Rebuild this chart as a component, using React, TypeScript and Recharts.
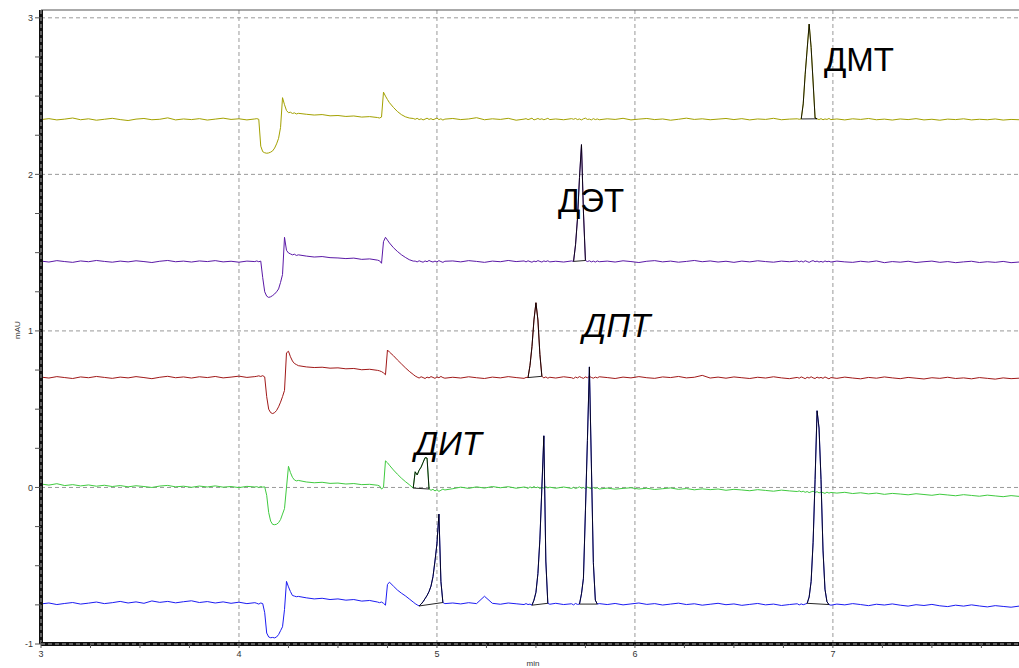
import React from 'react';
import { LineChart, Line, XAxis, YAxis, ReferenceLine } from 'recharts';

// retention time, min (shared grid for all traces)
const time = [
  3.00, 3.04, 3.08, 3.12, 3.16, 3.20, 3.24, 3.28, 3.32, 3.36, 3.40, 3.44, 3.48, 3.52, 3.56, 3.60, 3.64, 3.68, 3.72, 3.76, 3.80, 3.84, 3.88, 3.92, 3.96, 4.00, 4.04, 4.08,
  4.09, 4.10, 4.11, 4.12, 4.13, 4.14, 4.15, 4.16, 4.17, 4.18, 4.19, 4.20, 4.21, 4.22, 4.23, 4.24, 4.25, 4.26, 4.27, 4.28, 4.29, 4.30,
  4.34, 4.38, 4.42, 4.46, 4.50, 4.54, 4.58, 4.62, 4.66, 4.70,
  4.71, 4.72, 4.73, 4.74, 4.75, 4.76, 4.78, 4.80, 4.82, 4.84, 4.86, 4.88,
  4.89, 4.90, 4.91, 4.92, 4.93, 4.94, 4.95, 4.96, 4.97, 4.98, 4.99, 5.00, 5.01, 5.02, 5.03, 5.04,
  5.08, 5.12, 5.16, 5.20, 5.24, 5.28, 5.32, 5.36, 5.40, 5.44,
  5.45, 5.46, 5.47, 5.48, 5.49, 5.50, 5.51, 5.52, 5.53, 5.54, 5.55, 5.56, 5.57,
  5.60, 5.64, 5.68,
  5.69, 5.70, 5.71, 5.72, 5.73, 5.74, 5.75, 5.76, 5.77, 5.78, 5.79, 5.80, 5.81, 5.82,
  5.86, 5.90, 5.94, 5.98, 6.02, 6.06, 6.10, 6.14, 6.18, 6.22, 6.26, 6.30, 6.34, 6.38, 6.42, 6.46, 6.50, 6.54, 6.58, 6.62, 6.66, 6.70, 6.74, 6.78, 6.82,
  6.83, 6.84, 6.85, 6.86, 6.87, 6.88, 6.89, 6.90, 6.91, 6.92, 6.93, 6.94, 6.95, 6.96, 6.97, 6.98, 6.99,
  7.02, 7.06, 7.10, 7.14, 7.18, 7.22, 7.26, 7.30, 7.34, 7.38, 7.42, 7.46, 7.50, 7.54, 7.58, 7.62, 7.66, 7.70, 7.74, 7.78, 7.82, 7.86, 7.90, 7.94,
];

// ДМТ trace, mAU
const dmt = [
  2.350, 2.356, 2.348, 2.353, 2.360, 2.349, 2.355, 2.346, 2.352, 2.358, 2.350, 2.344, 2.353, 2.357, 2.349, 2.352, 2.361, 2.348, 2.354, 2.350, 2.356, 2.347, 2.353, 2.359, 2.351, 2.355, 2.348, 2.354,
  2.356, 2.352, 2.180, 2.145, 2.138, 2.135, 2.137, 2.142, 2.150, 2.168, 2.195, 2.230, 2.300, 2.490, 2.445, 2.408, 2.394, 2.397, 2.389, 2.393, 2.386, 2.390,
  2.384, 2.379, 2.382, 2.374, 2.376, 2.370, 2.373, 2.366, 2.369, 2.363,
  2.360, 2.366, 2.525, 2.500, 2.478, 2.458, 2.428, 2.402, 2.382, 2.368, 2.360, 2.357,
  2.352, 2.358, 2.350, 2.355, 2.348, 2.353, 2.359, 2.351, 2.356, 2.349, 2.354, 2.360, 2.350, 2.355, 2.347, 2.353,
  2.357, 2.350, 2.354, 2.362, 2.349, 2.355, 2.351, 2.358, 2.346, 2.353,
  2.356, 2.350, 2.354, 2.359, 2.348, 2.352, 2.357, 2.351, 2.355, 2.349, 2.353, 2.358, 2.350,
  2.354, 2.349, 2.356,
  2.352, 2.357, 2.350, 2.354, 2.348, 2.355, 2.359, 2.351, 2.353, 2.348, 2.356, 2.350, 2.354, 2.349,
  2.355, 2.351, 2.358, 2.348, 2.353, 2.357, 2.350, 2.354, 2.346, 2.352, 2.359, 2.351, 2.355, 2.349, 2.353, 2.357, 2.350, 2.356, 2.348, 2.354, 2.351, 2.358, 2.349, 2.353, 2.355,
  2.352, 2.354, 2.450, 2.640, 2.800, 2.960, 2.810, 2.590, 2.360, 2.355, 2.350, 2.356, 2.349, 2.354, 2.351, 2.357, 2.350,
  2.354, 2.348, 2.355, 2.351, 2.357, 2.349, 2.353, 2.347, 2.354, 2.350, 2.356, 2.348, 2.352, 2.346, 2.353, 2.350, 2.355, 2.348, 2.352, 2.349, 2.354, 2.347, 2.351, 2.349,
];

// ДЭТ trace
const det = [
  1.446, 1.440, 1.449, 1.443, 1.438, 1.447, 1.442, 1.450, 1.444, 1.439, 1.446, 1.441, 1.448, 1.443, 1.437, 1.445, 1.450, 1.442, 1.446, 1.440, 1.447, 1.443, 1.449, 1.441, 1.445, 1.439, 1.446, 1.443,
  1.447, 1.442, 1.446, 1.340, 1.250, 1.222, 1.214, 1.218, 1.226, 1.236, 1.250, 1.268, 1.310, 1.360, 1.598, 1.515, 1.498, 1.492, 1.486, 1.490, 1.482, 1.486,
  1.478, 1.472, 1.475, 1.468, 1.466, 1.462, 1.465, 1.457, 1.460, 1.452,
  1.448, 1.432, 1.570, 1.598, 1.580, 1.562, 1.532, 1.508, 1.487, 1.470, 1.455, 1.446,
  1.446, 1.441, 1.448, 1.443, 1.439, 1.447, 1.442, 1.450, 1.444, 1.440, 1.446, 1.441, 1.449, 1.443, 1.438, 1.445,
  1.447, 1.441, 1.449, 1.444, 1.438, 1.446, 1.442, 1.450, 1.443, 1.447,
  1.441, 1.448, 1.443, 1.439, 1.446, 1.442, 1.449, 1.444, 1.440, 1.447, 1.443, 1.448, 1.441,
  1.445, 1.440, 1.447,
  1.444, 1.550, 1.720, 1.980, 2.190, 1.760, 1.450, 1.443, 1.448, 1.441, 1.446, 1.440, 1.447, 1.442,
  1.446, 1.440, 1.448, 1.443, 1.437, 1.445, 1.449, 1.441, 1.446, 1.439, 1.444, 1.450, 1.442, 1.447, 1.440, 1.445, 1.438, 1.446, 1.441, 1.448, 1.443, 1.439, 1.446, 1.442, 1.447,
  1.441, 1.446, 1.440, 1.448, 1.443, 1.438, 1.445, 1.449, 1.442, 1.446, 1.440, 1.444, 1.439, 1.447, 1.442, 1.445, 1.440,
  1.446, 1.441, 1.438, 1.445, 1.440, 1.447, 1.436, 1.443, 1.439, 1.445, 1.437, 1.442, 1.446, 1.438, 1.443, 1.436, 1.441, 1.445, 1.437, 1.442, 1.438, 1.444, 1.436, 1.440,
];

// ДПТ trace
const dpt = [
  0.705, 0.699, 0.708, 0.702, 0.696, 0.706, 0.701, 0.709, 0.703, 0.697, 0.705, 0.700, 0.708, 0.702, 0.695, 0.704, 0.710, 0.701, 0.706, 0.699, 0.707, 0.702, 0.709, 0.700, 0.705, 0.711, 0.703, 0.708,
  0.710, 0.713, 0.709, 0.714, 0.706, 0.580, 0.500, 0.478, 0.472, 0.478, 0.492, 0.515, 0.545, 0.580, 0.620, 0.860, 0.870, 0.835, 0.808, 0.792, 0.785, 0.778,
  0.770, 0.766, 0.768, 0.762, 0.764, 0.758, 0.760, 0.752, 0.755, 0.748,
  0.745, 0.740, 0.732, 0.720, 0.878, 0.865, 0.842, 0.815, 0.790, 0.765, 0.742, 0.722,
  0.712, 0.705, 0.699, 0.707, 0.702, 0.696, 0.705, 0.700, 0.708, 0.703, 0.697, 0.706, 0.701, 0.709, 0.702, 0.698,
  0.704, 0.699, 0.707, 0.701, 0.696, 0.705, 0.700, 0.708, 0.702, 0.697,
  0.703, 0.702, 0.780, 0.900, 1.070, 1.180, 1.070, 0.850, 0.710, 0.700, 0.706, 0.698, 0.704,
  0.699, 0.707, 0.701,
  0.696, 0.705, 0.700, 0.708, 0.702, 0.697, 0.706, 0.701, 0.709, 0.703, 0.698, 0.705, 0.700, 0.707,
  0.702, 0.696, 0.705, 0.700, 0.708, 0.701, 0.697, 0.706, 0.702, 0.709, 0.700, 0.704, 0.716, 0.699, 0.705, 0.698, 0.706, 0.701, 0.696, 0.704, 0.699, 0.707, 0.700, 0.695, 0.703,
  0.698, 0.706, 0.701, 0.695, 0.704, 0.699, 0.707, 0.700, 0.696, 0.705, 0.699, 0.703, 0.697, 0.706, 0.700, 0.694, 0.702,
  0.697, 0.705, 0.699, 0.694, 0.703, 0.698, 0.706, 0.700, 0.695, 0.703, 0.698, 0.693, 0.701, 0.697, 0.704, 0.696, 0.700, 0.694, 0.702, 0.697, 0.692, 0.700, 0.695, 0.698,
];

// ДИТ trace
const dit = [
  0.022, 0.015, 0.024, 0.012, 0.018, 0.010, 0.016, 0.008, 0.014, 0.006, 0.012, 0.004, 0.011, 0.006, 0.000, 0.009, 0.013, 0.004, 0.008, 0.001, 0.009, 0.003, 0.010, 0.002, 0.006, -0.001, 0.007, 0.003,
  0.005, 0.000, 0.006, 0.002, 0.004, -0.050, -0.160, -0.215, -0.236, -0.238, -0.235, -0.225, -0.205, -0.170, -0.135, 0.000, 0.135, 0.095, 0.065, 0.048, 0.042, 0.045,
  0.035, 0.030, 0.033, 0.026, 0.028, 0.022, 0.025, 0.018, 0.020, 0.014,
  0.010, -0.010, 0.000, 0.170, 0.158, 0.142, 0.112, 0.085, 0.060, 0.038, 0.018, -0.004,
  0.100, 0.080, 0.110, 0.130, 0.160, 0.190, 0.188, -0.010, -0.018, -0.012, -0.022, -0.015, -0.025, -0.018, -0.010, -0.016,
  -0.008, 0.002, -0.006, 0.004, -0.004, 0.006, -0.002, 0.005, -0.005, 0.003,
  0.000, -0.006, 0.004, -0.003, 0.006, -0.002, 0.003, -0.007, 0.001, -0.004, 0.005, -0.003, 0.002,
  -0.005, 0.003, -0.006,
  0.001, -0.007, -0.002, 0.004, -0.005, 0.000, -0.008, 0.002, -0.004, -0.009, 0.000, -0.006, -0.002, -0.010,
  -0.004, -0.011, -0.006, -0.002, -0.010, -0.005, -0.013, -0.008, -0.003, -0.012, -0.007, -0.015, -0.009, -0.014, -0.010, -0.018, -0.012, -0.016, -0.021, -0.014, -0.019, -0.024, -0.017, -0.022, -0.026,
  -0.022, -0.028, -0.024, -0.031, -0.026, -0.033, -0.028, -0.024, -0.032, -0.027, -0.035, -0.029, -0.033, -0.038, -0.030, -0.036, -0.032,
  -0.036, -0.031, -0.039, -0.034, -0.041, -0.036, -0.044, -0.038, -0.042, -0.047, -0.040, -0.045, -0.050, -0.043, -0.048, -0.053, -0.046, -0.051, -0.056, -0.049, -0.054, -0.059, -0.052, -0.057,
];

// mixture trace
const mix = [
  -0.744, -0.738, -0.748, -0.741, -0.735, -0.745, -0.739, -0.732, -0.742, -0.736, -0.728, -0.738, -0.731, -0.740, -0.725, -0.734, -0.728, -0.737, -0.730, -0.724, -0.735, -0.729, -0.738, -0.731, -0.740, -0.733, -0.742, -0.736,
  -0.740, -0.745, -0.738, -0.742, -0.800, -0.930, -0.955, -0.960, -0.958, -0.961, -0.955, -0.940, -0.915, -0.890, -0.780, -0.600, -0.635, -0.665, -0.690, -0.694, -0.698, -0.696,
  -0.705, -0.712, -0.708, -0.716, -0.712, -0.720, -0.716, -0.726, -0.722, -0.732,
  -0.736, -0.732, -0.740, -0.752, -0.620, -0.605, -0.630, -0.655, -0.675, -0.692, -0.712, -0.732,
  -0.742, -0.750, -0.757, -0.745, -0.730, -0.710, -0.690, -0.665, -0.630, -0.570, -0.470, -0.360, -0.170, -0.600, -0.735, -0.742,
  -0.738, -0.744, -0.736, -0.742, -0.695, -0.740, -0.746, -0.738, -0.743, -0.748,
  -0.742, -0.748, -0.745, -0.752, -0.720, -0.670, -0.550, -0.330, 0.000, 0.330, -0.470, -0.740, -0.746,
  -0.740, -0.748, -0.743,
  -0.750, -0.741, -0.747, -0.745, -0.680, -0.580, -0.150, 0.300, 0.770, 0.150, -0.480, -0.720, -0.745, -0.742,
  -0.748, -0.741, -0.750, -0.744, -0.738, -0.747, -0.742, -0.751, -0.745, -0.739, -0.748, -0.743, -0.752, -0.746, -0.740, -0.749, -0.744, -0.753, -0.747, -0.741, -0.750, -0.745, -0.754, -0.748, -0.743,
  -0.750, -0.744, -0.749, -0.745, -0.740, -0.700, -0.600, -0.350, 0.050, 0.490, 0.380, 0.050, -0.400, -0.650, -0.730, -0.748, -0.752,
  -0.745, -0.750, -0.742, -0.748, -0.755, -0.746, -0.751, -0.744, -0.752, -0.758, -0.749, -0.754, -0.747, -0.756, -0.761, -0.752, -0.758, -0.750, -0.757, -0.763, -0.755, -0.760, -0.765, -0.758,
];

// integrated peak windows (start / end time)
const integrations = [
  { key: 'dmt', from: 6.84, to: 6.92 },
  { key: 'det', from: 5.69, to: 5.75 },
  { key: 'dpt', from: 5.46, to: 5.53 },
  { key: 'dit', from: 4.88, to: 4.96 },
  { key: 'mix', from: 4.91, to: 5.03 },
  { key: 'mix', from: 5.48, to: 5.56 },
  { key: 'mix', from: 5.72, to: 5.81 },
  { key: 'mix', from: 6.87, to: 6.98 },
];

const xTicks = [3, 3.25, 3.5, 3.75, 4, 4.25, 4.5, 4.75, 5, 5.25, 5.5, 5.75, 6, 6.25, 6.5, 6.75, 7, 7.25, 7.5, 7.75];
const yTicks = [-1, -0.75, -0.5, -0.25, 0, 0.25, 0.5, 0.75, 1, 1.25, 1.5, 1.75, 2, 2.25, 2.5, 2.75, 3];
const xGrid = [4, 5, 6, 7];
const yGrid = [0, 1, 2, 3];

const series = [
  { key: 'dmt', color: '#a3a100' },
  { key: 'det', color: '#5a18a6' },
  { key: 'dpt', color: '#a01818' },
  { key: 'dit', color: '#3fca3f' },
  { key: 'mix', color: '#1c1cf2' },
];

const rows = time.map((t, i) => ({ t, dmt: dmt[i], det: det[i], dpt: dpt[i], dit: dit[i], mix: mix[i] }));

const outlines = integrations.map((w) => {
  const pts = rows
    .filter((r) => r.t >= w.from - 1e-9 && r.t <= w.to + 1e-9)
    .map((r) => ({ t: r.t, v: (r as any)[w.key] as number }));
  pts.push(pts[0]);
  return pts;
});

const fmt = (v: number) => (Number.isInteger(v) ? String(v) : '');
const tickFont = { fontSize: 9, fill: '#333', fontFamily: 'Liberation Sans, Arial, sans-serif' };

export default function App() {
  return (
    <div style={{ position: 'absolute', left: 0, top: 0, width: 1019, height: 668, background: '#fff' }}>
      <LineChart width={1019} height={668} data={rows} margin={{ top: 10, right: 0, bottom: 0, left: 0 }}>
        <XAxis
          dataKey="t"
          type="number"
          domain={[3, 7.94]}
          allowDataOverflow
          ticks={xTicks}
          interval={0}
          tickFormatter={fmt}
          axisLine={false}
          tickLine={{ stroke: '#555' }}
          tickSize={4}
          tickMargin={3}
          height={24}
          tick={tickFont}
        />
        <YAxis
          type="number"
          domain={[-1, 3.05]}
          allowDataOverflow
          ticks={yTicks}
          interval={0}
          tickFormatter={fmt}
          axisLine={false}
          tickLine={{ stroke: '#555' }}
          tickSize={6}
          tickMargin={2}
          width={41}
          tick={tickFont}
        />
        {xGrid.map((x) => (
          <ReferenceLine key={'gx' + x} x={x} stroke="#999" strokeDasharray="4 3" />
        ))}
        {yGrid.map((y) => (
          <ReferenceLine key={'gy' + y} y={y} stroke="#999" strokeDasharray="4 3" />
        ))}
        <ReferenceLine y={3.05} stroke="#555" />
        {series.map((s) => (
          <Line
            key={s.key}
            dataKey={s.key}
            type="linear"
            stroke={s.color}
            strokeWidth={1}
            dot={false}
            isAnimationActive={false}
          />
        ))}
        {outlines.map((pts, i) => (
          <Line
            key={'int' + i}
            data={pts}
            dataKey="v"
            type="linear"
            stroke="#000"
            strokeWidth={1}
            strokeOpacity={0.85}
            dot={false}
            isAnimationActive={false}
          />
        ))}
        <ReferenceLine x={3} stroke="#111" strokeWidth={4} />
        <ReferenceLine x={3} stroke="#aaa" strokeWidth={1} strokeDasharray="4 3" />
        <ReferenceLine y={-1} stroke="#111" strokeWidth={4} />
        <ReferenceLine y={-1} stroke="#aaa" strokeWidth={1} strokeDasharray="4 3" />
      </LineChart>
      <svg width={1019} height={668} style={{ position: 'absolute', left: 0, top: 0, pointerEvents: 'none' }}>
        <g fontFamily="Liberation Sans, Arial, sans-serif" fill="#000" fontSize={33}>
          <text x={824} y={71}>ДМТ</text>
          <text x={558} y={212}>ДЭТ</text>
          <text x={583} y={337} fontStyle="italic">ДПТ</text>
          <text x={415} y={455} fontStyle="italic">ДИТ</text>
        </g>
        <text x={533} y={666} textAnchor="middle" fontSize={8} fill="#333" fontFamily="Liberation Sans, Arial, sans-serif">min</text>
        <text transform="translate(20,330) rotate(-90)" textAnchor="middle" fontSize={8} fill="#333" fontFamily="Liberation Sans, Arial, sans-serif">mAU</text>
      </svg>
    </div>
  );
}
